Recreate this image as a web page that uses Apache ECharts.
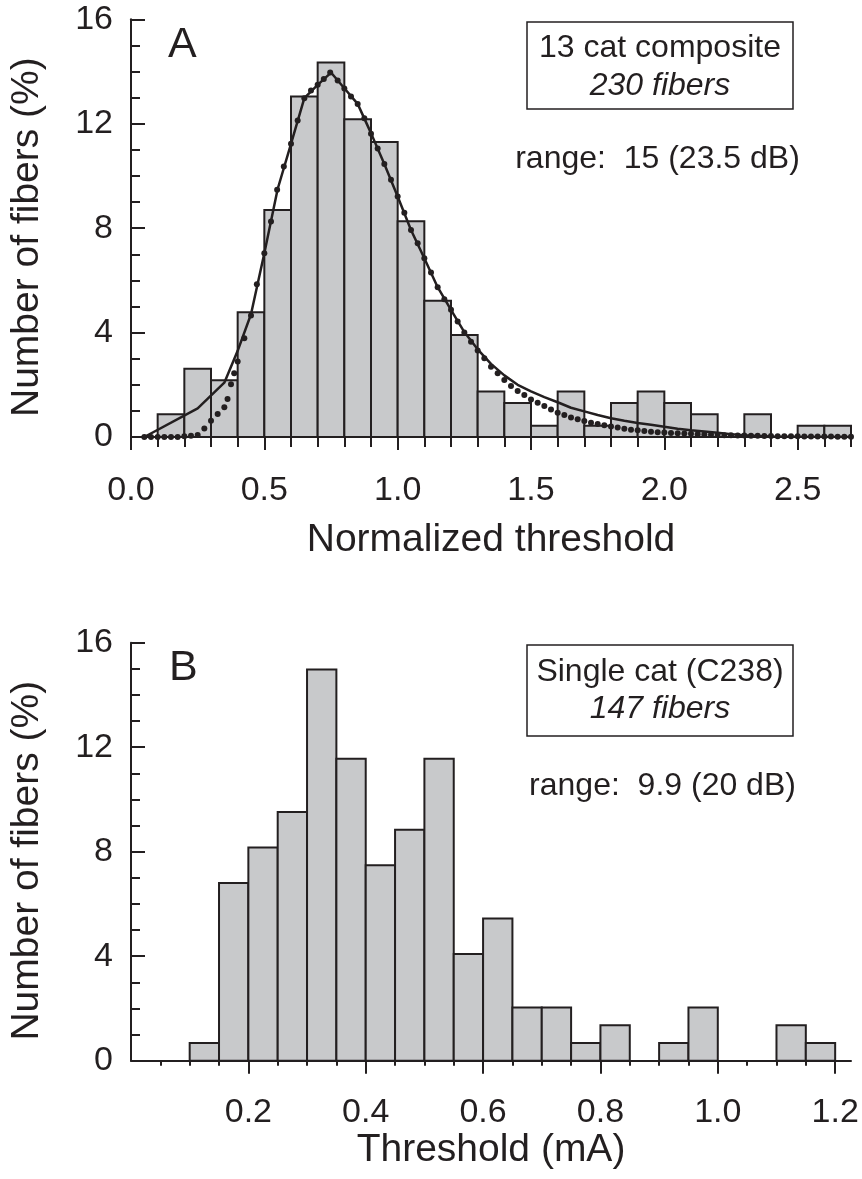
<!DOCTYPE html>
<html><head><meta charset="utf-8">
<script src="https://cdn.jsdelivr.net/npm/echarts@6/dist/echarts.min.js"></script>
<style>html,body{margin:0;padding:0;background:#fff}#c{width:862px;height:1179px}</style>
</head><body><div id="c"></div>
<script>
// ---------- Panel A data ----------
const binLeftA = [0.1,0.2,0.3,0.4,0.5,0.6,0.7,0.8,0.9,1.0,1.1,1.2,1.3,1.4,1.5,1.6,1.7,1.8,1.9,2.0,2.1,2.2,2.3,2.4,2.5,2.6];
const binWidthA = 0.1;
const pctA = [0.87,2.61,2.17,4.78,8.70,13.04,14.35,12.17,11.30,8.26,5.22,3.91,1.74,1.30,0.43,1.74,0.43,1.30,1.74,1.30,0.87,0,0.87,0,0.43,0.43];
const fitLineA = [[0.05,0],[0.25,1.1],[0.35,2.08],[0.4,3.3],[0.45,4.7],[0.5,7.04],[0.55,9.5],[0.6,11.23],[0.65,12.98],[0.7,13.49],[0.75,13.96],[0.8,13.36],[0.85,12.76],[0.9,11.64],[0.95,10.46],[1.0,9.21],[1.05,7.93],[1.1,6.85],[1.15,5.74],[1.2,4.87],[1.25,4.02],[1.3,3.36],[1.35,2.8],[1.4,2.36],[1.45,2.0],[1.5,1.75],[1.55,1.53],[1.6,1.33],[1.65,1.12],[1.7,0.98],[1.75,0.84],[1.8,0.72],[1.85,0.62],[1.9,0.54],[1.95,0.47],[2.0,0.39],[2.05,0.32],[2.1,0.26],[2.15,0.21],[2.2,0.16],[2.25,0.11],[2.3,0.07],[2.35,0.04],[2.4,0.02],[2.5,0.01],[2.7,0.0]];
const fitDotsA = [[0.05,0],[0.075,0],[0.1,0],[0.125,0],[0.15,0],[0.175,0],[0.2,0.03],[0.225,0.05],[0.25,0.08],[0.275,0.33],[0.3,0.62],[0.325,0.88],[0.35,1.14],[0.362,1.46],[0.375,2.02],[0.387,2.44],[0.4,2.89],[0.425,3.78],[0.45,4.65],[0.472,5.85],[0.5,7.04],[0.525,8.25],[0.548,9.47],[0.573,10.36],[0.6,11.23],[0.625,12.12],[0.65,12.98],[0.675,13.27],[0.7,13.49],[0.723,13.71],[0.747,13.96],[0.775,13.66],[0.8,13.35],[0.825,13.04],[0.85,12.76],[0.875,12.21],[0.9,11.62],[0.925,11.05],[0.95,10.46],[0.975,9.85],[1.0,9.21],[1.025,8.59],[1.05,7.93],[1.075,7.42],[1.1,6.85],[1.125,6.3],[1.15,5.74],[1.175,5.28],[1.2,4.87],[1.225,4.42],[1.25,4.0],[1.275,3.65],[1.3,3.31],[1.325,3.02],[1.35,2.69],[1.375,2.44],[1.4,2.18],[1.425,1.95],[1.45,1.76],[1.475,1.61],[1.5,1.44],[1.525,1.31],[1.55,1.19],[1.575,1.05],[1.6,0.93],[1.625,0.84],[1.65,0.75],[1.675,0.68],[1.7,0.61],[1.725,0.55],[1.75,0.5],[1.775,0.45],[1.8,0.4],[1.825,0.36],[1.85,0.32],[1.875,0.28],[1.9,0.26],[1.925,0.23],[1.95,0.2],[1.975,0.18],[2.0,0.17],[2.025,0.15],[2.05,0.14],[2.075,0.13],[2.1,0.12],[2.125,0.11],[2.15,0.1],[2.175,0.09],[2.2,0.08],[2.225,0.07],[2.25,0.07],[2.275,0.06],[2.3,0.06],[2.325,0.05],[2.35,0.05],[2.375,0.04],[2.4,0.04],[2.425,0.03],[2.45,0.03],[2.475,0.03],[2.5,0.03],[2.525,0.02],[2.55,0.02],[2.575,0.02],[2.6,0.02],[2.625,0.02],[2.65,0.01],[2.675,0.01],[2.7,0.01]];
const xMajorA = [0,0.5,1.0,1.5,2.0,2.5];
const xMinorA = [0.1,0.2,0.3,0.4,0.5,0.6,0.7,0.8,0.9,1.0,1.1,1.2,1.3,1.4,1.5,1.6,1.7,1.8,1.9,2.0,2.1,2.2,2.3,2.4,2.5,2.6,2.7];
const yTicks = [0,4,8,12,16];
const textA = {panel:'A', line1:'13 cat composite', line2:'230 fibers', range:'range:  15 (23.5 dB)'};

// ---------- Panel B data ----------
const binLeftB = [0.10,0.15,0.20,0.25,0.30,0.35,0.40,0.45,0.50,0.55,0.60,0.65,0.70,0.75,0.80,0.85,0.90,0.95,1.00,1.05,1.10,1.15];
const binWidthB = 0.05;
const pctB = [0.68,6.80,8.16,9.52,14.97,11.56,7.48,8.84,11.56,4.08,5.44,2.04,2.04,0.68,1.36,0,0.68,2.04,0,0,1.36,0.68];
const xMajorB = [0.2,0.4,0.6,0.8,1.0,1.2];
const xMinorB = [0.05,0.1,0.15,0.2,0.25,0.3,0.35,0.4,0.45,0.5,0.55,0.6,0.65,0.7,0.75,0.8,0.85,0.9,0.95,1.0,1.05,1.1,1.15,1.2];
const textB = {panel:'B', line1:'Single cat (C238)', line2:'147 fibers', range:'range:  9.9 (20 dB)'};

// ---------- styling ----------
const FONT = "'Liberation Sans', Arial, Helvetica, sans-serif";
const INK = '#231f20';
const BARFILL = '#c8c9cb';
const TICKFS = 34, TITLEFS = 39, NOTEFS = 32;

function histData(lefts, w, vals){
  const out = [];
  lefts.forEach((l,i)=>{ if (vals[i] > 0) out.push([l, +(l + w).toFixed(4), vals[i]]); });
  return out;
}
function renderBar(params, api){
  const p0 = api.coord([api.value(0), api.value(2)]);
  const p1 = api.coord([api.value(1), 0]);
  return {type:'rect', shape:{x:p0[0], y:p0[1], width:p1[0]-p0[0], height:p1[1]-p0[1]},
          style:{fill:BARFILL, stroke:INK, lineWidth:2}};
}
function xMajor(grid, max, ticks, gap, title, margin){
  return {gridIndex:grid, type:'value', min:0, max:max, position:'bottom',
    axisLine:{show:true, onZero:false, lineStyle:{color:INK, width:2}},
    axisTick:{show:true, customValues:ticks, length:13, lineStyle:{color:INK, width:2}},
    axisLabel:{show:true, customValues:ticks, formatter:v=>v.toFixed(1), fontSize:TICKFS, fontFamily:FONT, color:INK, margin:margin},
    splitLine:{show:false},
    name:title, nameLocation:'middle', nameGap:gap, nameTextStyle:{fontSize:TITLEFS, fontFamily:FONT, color:INK}};
}
function xMinor(grid, max, ticks, len){
  return {gridIndex:grid, type:'value', min:0, max:max, position:'bottom',
    axisLine:{show:false, onZero:false},
    axisTick:{show:true, customValues:ticks, length:len, lineStyle:{color:INK, width:2}},
    axisLabel:{show:false}, splitLine:{show:false}};
}
function yAxis(grid){
  return {gridIndex:grid, type:'value', min:0, max:16, interval:4,
    axisLine:{show:true, lineStyle:{color:INK, width:2}},
    axisTick:{show:true, inside:true, length:14, lineStyle:{color:INK, width:2}},
    minorTick:{show:true, splitNumber:4, length:9, lineStyle:{color:INK, width:2}},
    axisLabel:{show:true, customValues:yTicks, fontSize:TICKFS, fontFamily:FONT, color:INK, margin:18},
    splitLine:{show:false},
    name:'Number of fibers (%)', nameLocation:'middle', nameGap:84, nameRotate:90,
    nameTextStyle:{fontSize:TITLEFS, fontFamily:FONT, color:INK, padding:[0,18,0,0]}};
}
function textStyle(text, size, align, italic){
  return {text:text, fontSize:size, fontFamily:FONT, fontStyle:italic?'italic':'normal', fill:INK,
    align:align, textAlign:align, verticalAlign:'middle', textVerticalAlign:'middle'};
}
function note(x, y, text, size, align, italic){
  return {type:'text', x:x, y:y, z:100, style:textStyle(text, size, align||'center', italic)};
}

const chart = echarts.init(document.getElementById('c'), null, {renderer:'canvas'});
chart.setOption({
  backgroundColor:'#fff',
  animation:false,
  grid:[
    {left:131, right:11, top:19.3, height:417.7},
    {left:131, right:11, top:642.7, height:418}
  ],
  xAxis:[
    xMajor(0, 2.7, xMajorA, 84, 'Normalized threshold', 37),
    xMinor(0, 2.7, xMinorA, 10),
    xMajor(1, 1.227, xMajorB, 70, 'Threshold (mA)', 35),
    xMinor(1, 1.227, xMinorB, 5)
  ],
  yAxis:[ yAxis(0), yAxis(1) ],
  series:[
    {type:'custom', xAxisIndex:0, yAxisIndex:0, renderItem:renderBar, data:histData(binLeftA, binWidthA, pctA), encode:{x:[0,1], y:2}, z:2},
    {type:'line', xAxisIndex:0, yAxisIndex:0, data:fitLineA, showSymbol:false, symbol:'none', smooth:false,
      lineStyle:{color:INK, width:2.5, opacity:1}, z:3},
    {type:'scatter', xAxisIndex:0, yAxisIndex:0, data:fitDotsA, symbol:'circle', symbolSize:6,
      itemStyle:{color:INK, opacity:1}, z:4},
    {type:'custom', xAxisIndex:2, yAxisIndex:1, renderItem:renderBar, data:histData(binLeftB, binWidthB, pctB), encode:{x:[0,1], y:2}, z:2}
  ],
  graphic:[
    note(168, 45, textA.panel, 43, 'left'),
    {type:'rect', z:99, shape:{x:527, y:22, width:266, height:87}, style:{fill:'#fff', stroke:INK, lineWidth:1.5}},
    note(660, 48, textA.line1, NOTEFS),
    note(660, 86, textA.line2, NOTEFS, 'center', true),
    note(657.5, 159, textA.range, NOTEFS),

    note(169, 668, textB.panel, 43, 'left'),
    {type:'rect', z:99, shape:{x:527, y:645, width:266, height:91}, style:{fill:'#fff', stroke:INK, lineWidth:1.5}},
    note(660, 672, textB.line1, NOTEFS),
    note(660, 709, textB.line2, NOTEFS, 'center', true),
    note(662.5, 786, textB.range, NOTEFS)
  ]
});
</script></body></html>
